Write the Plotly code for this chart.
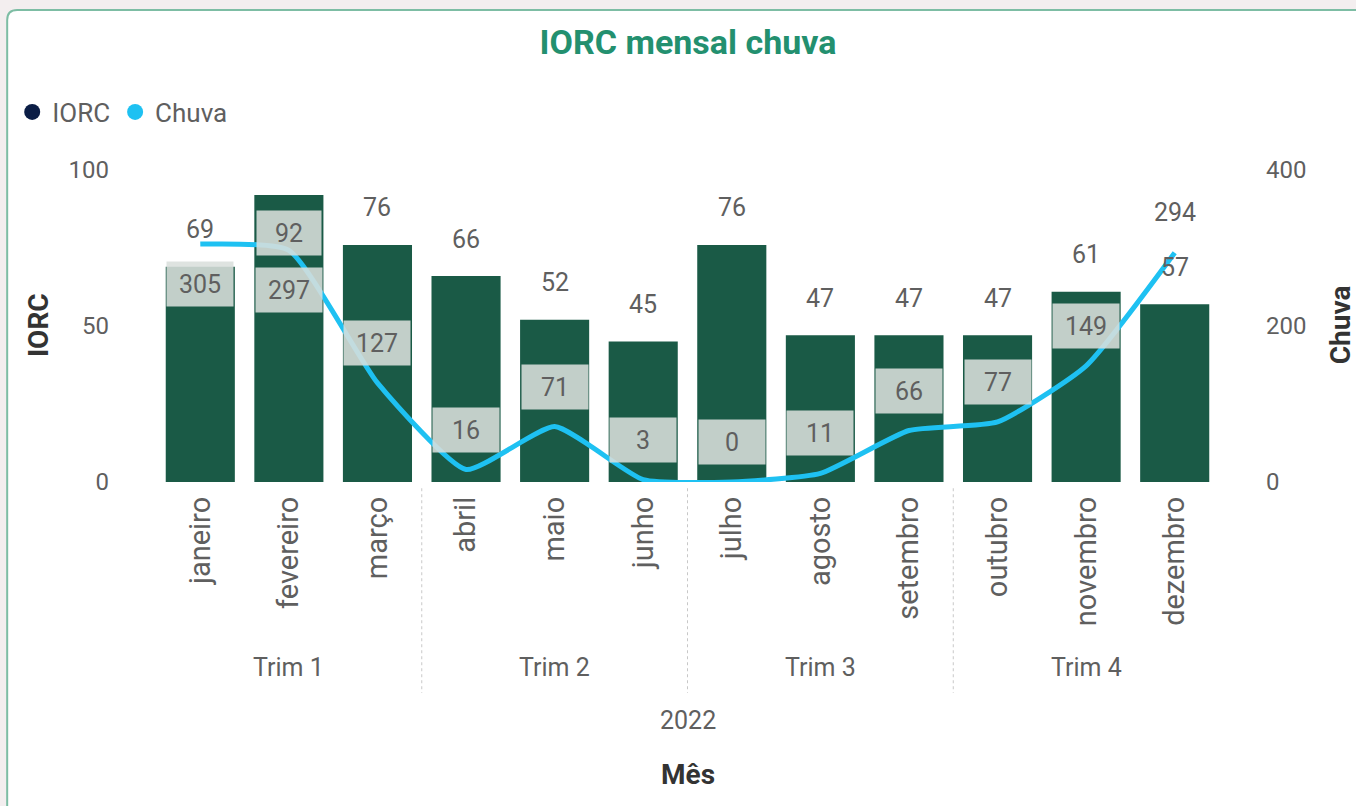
import plotly.graph_objects as go

# ---------------- data ----------------
months = ["janeiro", "fevereiro", "março", "abril", "maio", "junho",
          "julho", "agosto", "setembro", "outubro", "novembro", "dezembro"]
quarters = ["Trim 1", "Trim 2", "Trim 3", "Trim 4"]
quarter_mid_month = ["fevereiro", "maio", "agosto", "novembro"]
year_label = "2022"
iorc = [69, 92, 76, 66, 52, 45, 76, 47, 47, 47, 61, 57]
chuva = [305, 297, 127, 16, 71, 3, 0, 11, 66, 77, 149, 294]
iorc_ticks = [0, 50, 100]
chuva_ticks = [0, 200, 400]

# ---------------- label styles ----------------
iorc_label_inside = [False, True, False, False, False, False,
                     False, False, False, False, False, False]
chuva_label_below = [True, True, False, False, False, False,
                     False, False, False, False, False, False]
chuva_label_boxed = [True] * 11 + [False]

BAR = "#1a5a46"
LINE = "#1ec1f2"
TXT = "#5f5f5f"
BOX = "rgba(218,223,220,0.88)"
FONT = "Roboto, Open Sans, sans-serif"

fig = go.Figure()
fig.add_trace(go.Bar(x=months, y=iorc, marker=dict(color=BAR, line=dict(width=0)),
                     showlegend=False, hoverinfo="skip"))
fig.add_trace(go.Scatter(x=months, y=chuva, yaxis="y2", mode="lines",
                         line=dict(color=LINE, width=5, shape="spline", smoothing=0.5),
                         showlegend=False, hoverinfo="skip"))
# legend entries
fig.add_trace(go.Scatter(x=[None], y=[None], mode="markers", name="IORC",
                         marker=dict(color="#0b1d45", size=21, symbol="circle")))
fig.add_trace(go.Scatter(x=[None], y=[None], mode="markers", name="Chuva",
                         marker=dict(color=LINE, size=21, symbol="circle")))

ann = []
for m, v, inside in zip(months, iorc, iorc_label_inside):
    a = dict(x=m, y=v, xref="x", yref="y", text=str(v), showarrow=False,
             yshift=-38 if inside else 37, font=dict(size=25, color=TXT, family=FONT))
    if inside:
        a.update(bgcolor=BOX, width=58, height=38, borderpad=3)
    ann.append(a)
for m, v, below, boxed in zip(months, chuva, chuva_label_below, chuva_label_boxed):
    a = dict(x=m, y=v, xref="x", yref="y2", text=str(v), showarrow=False,
             yshift=-40 if below else 40, font=dict(size=25, color=TXT, family=FONT))
    if boxed:
        a.update(bgcolor=BOX, width=60, height=38, borderpad=3)
    ann.append(a)
for q, m in zip(quarters, quarter_mid_month):
    ann.append(dict(x=m, y=-0.596, xref="x", yref="paper", text=q, showarrow=False,
                    yanchor="middle", font=dict(size=25, color=TXT, family=FONT)))
ann.append(dict(x=0.5, y=-0.763, xref="paper", yref="paper", text=year_label,
                showarrow=False, yanchor="middle", font=dict(size=25, color=TXT, family=FONT)))
ann.append(dict(x=0.5, y=-0.939, xref="paper", yref="paper", text="<b>Mês</b>",
                showarrow=False, yanchor="middle", font=dict(size=28, color="#333", family=FONT)))
ann.append(dict(x=-0.111, y=0.503, xref="paper", yref="paper", text="<b>IORC</b>",
                showarrow=False, textangle=-90, xanchor="center", yanchor="middle",
                font=dict(size=28, color="#333", family=FONT)))
ann.append(dict(x=1.114, y=0.503, xref="paper", yref="paper", text="<b>Chuva</b>",
                showarrow=False, textangle=-90, xanchor="center", yanchor="middle",
                font=dict(size=28, color="#333", family=FONT)))

# card background with rounded corners (paper coords)
px0, px1, py0, py1 = -0.140, 1.14, -1.06, 1.513
rx, ry = 10 / 1063, 10 / 312
card = (f"M {px0+rx},{py1} L {px1},{py1} L {px1},{py0} L {px0},{py0} "
        f"L {px0},{py1-ry} Q {px0},{py1} {px0+rx},{py1} Z")
shapes = [dict(type="path", path=card, xref="paper", yref="paper",
               fillcolor="white", line=dict(color="#7dbda4", width=2), layer="below")]
for xs in [2.5, 5.5, 8.5]:
    shapes.append(dict(type="line", xref="x", yref="paper", x0=xs, x1=xs,
                       y0=-0.02, y1=-0.676, line=dict(color="#c8c8c8", width=1, dash="dot")))

fig.update_layout(
    width=1356, height=806, autosize=False,
    margin=dict(l=156, r=137, t=170, b=324),
    paper_bgcolor="#f3eeef", plot_bgcolor="rgba(0,0,0,0)",
    bargap=0.22,
    title=dict(text="<b>IORC mensal chuva</b>", x=688 / 1356, y=1 - 42 / 806,
               xref="container", yref="container",
               xanchor="center", yanchor="middle",
               font=dict(size=34, color="#23906f", family=FONT)),
    legend=dict(orientation="h", xref="container", yref="container",
                x=0.009, y=1 - 112 / 806, xanchor="left", yanchor="middle",
                font=dict(size=26, color=TXT, family=FONT),
                itemwidth=30, bgcolor="rgba(0,0,0,0)"),
    xaxis=dict(type="category", categoryorder="array", categoryarray=months,
               tickangle=-90, showgrid=False, zeroline=False, showline=False,
               ticks="", ticklabelstandoff=8,
               tickfont=dict(size=29, color=TXT, family=FONT)),
    yaxis=dict(range=[0, 100], tickvals=iorc_ticks, showgrid=False, zeroline=False,
               showline=False, ticks="", ticklabelstandoff=46,
               tickfont=dict(size=24, color=TXT, family=FONT)),
    yaxis2=dict(range=[0, 400], tickvals=chuva_ticks, overlaying="y", side="right",
                showgrid=False, zeroline=False, showline=False, ticks="",
                ticklabelstandoff=46, tickfont=dict(size=24, color=TXT, family=FONT)),
    annotations=ann, shapes=shapes, hovermode=False,
)

fig.write_html("out.html", config={"displayModeBar": False},
               post_script="document.body.style.margin='0';document.body.style.background='#f3eeef';")
